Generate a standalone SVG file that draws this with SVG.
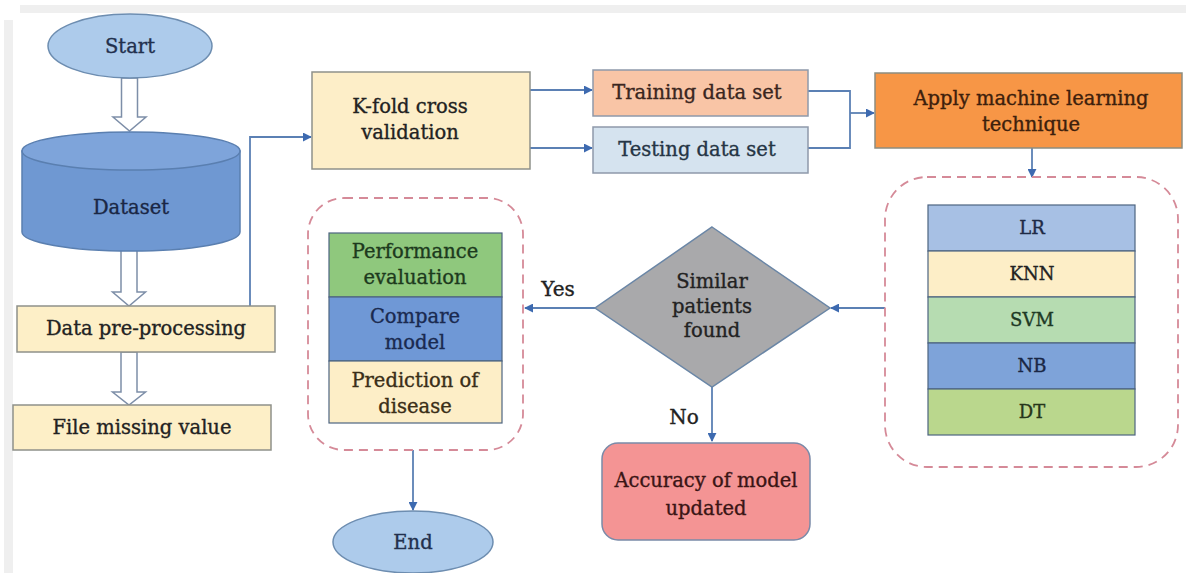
<svg xmlns="http://www.w3.org/2000/svg" width="1186" height="573" viewBox="0 0 1186 573" font-family="'DejaVu Serif', 'Liberation Serif', serif">
<defs>
<style>
text{font-family:'DejaVu Serif','Liberation Serif',serif}
.t{font-size:19.5px;fill:#222;stroke:#222;stroke-width:0.35;text-anchor:middle}
.m{font-size:18px}
.b{stroke:#8f918a;stroke-width:1.5}
.c{fill:none;stroke:#5b80b4;stroke-width:1.8}
.h{fill:#fff;stroke:#7d8ea8;stroke-width:1.5}
.d{fill:none;stroke:#d58a98;stroke-width:1.8;stroke-dasharray:9 6}
.s{stroke:#4d6480;stroke-width:1.2}
</style>
<marker id="ar" viewBox="0 0 10 10" refX="9" refY="5" markerWidth="9" markerHeight="9" markerUnits="userSpaceOnUse" orient="auto"><path d="M0,0 L10,5 L0,10 z" fill="#3d6ab0"/></marker>
</defs>
<rect width="1186" height="573" fill="#fff"/>
<rect x="20" y="5" width="1166" height="8" fill="#efefef"/>
<rect x="4" y="20" width="9" height="553" fill="#efefef"/>

<g id="connectors">
<polygon class="h" points="121.5,78 137.5,78 137.5,117 146,117 129.5,131 113,117 121.5,117"/>
<polygon class="h" points="121,250 137,250 137,292 145.5,292 129,306 112.5,292 121,292"/>
<polygon class="h" points="121,352 137,352 137,392 145.5,392 129,405 112.5,392 121,392"/>
<path class="c" d="M250,306 V137 H311" marker-end="url(#ar)"/>
<path class="c" d="M530,90 H592" marker-end="url(#ar)"/>
<path class="c" d="M530,148 H592" marker-end="url(#ar)"/>
<path class="c" d="M808,91 H850 V148 H808"/>
<path class="c" d="M850,113 H874" marker-end="url(#ar)"/>
<path class="c" d="M1032,148 V177" marker-end="url(#ar)"/>
<path class="c" d="M885,308 H831" marker-end="url(#ar)"/>
<path class="c" d="M595,308 H525" marker-end="url(#ar)"/>
<path class="c" d="M712,387 V441" marker-end="url(#ar)"/>
<path class="c" d="M413,450 V510" marker-end="url(#ar)"/>
<text class="t" x="558" y="296" style="font-size:20px">Yes</text>
<text class="t" x="684" y="424" style="font-size:20px">No</text>
</g>

<g id="start">
<ellipse cx="130" cy="46" rx="82" ry="32" fill="#adcbeb" stroke="#6d8db0" stroke-width="1.5"/>
<text class="t" x="130" y="53" style="fill:#22304d;stroke:#22304d">Start</text>
</g>

<g id="dataset">
<path d="M22,151 V232 A109,19 0 0 0 240,232 V151 Z" fill="#6f98d2" stroke="#5a7fb0" stroke-width="1.5"/>
<ellipse cx="131" cy="151" rx="109" ry="19" fill="#7ea4da" stroke="#5a7fb0" stroke-width="1.5"/>
<text class="t" x="131" y="214" style="fill:#1a2745;stroke:#1a2745">Dataset</text>
</g>

<g id="preprocessing">
<rect class="b" x="17" y="306" width="258" height="46" fill="#fdefc7"/>
<text class="t" x="146" y="335">Data pre-processing</text>
</g>

<g id="missing">
<rect class="b" x="13" y="405" width="258" height="45" fill="#fdefc7"/>
<text class="t" x="142" y="434">File missing value</text>
</g>

<g id="kfold">
<rect class="b" x="312" y="72" width="218" height="97" fill="#fdeec8"/>
<text class="t" x="410" y="113">K-fold cross</text>
<text class="t" x="410" y="139">validation</text>
</g>

<g id="training">
<rect x="593" y="70" width="215" height="46" fill="#f9c5a6" stroke="#8e99aa" stroke-width="1.5"/>
<text class="t" x="697" y="99" style="fill:#3a2620;stroke:#3a2620">Training data set</text>
</g>

<g id="testing">
<rect x="593" y="127" width="215" height="46" fill="#d5e3ef" stroke="#8e99aa" stroke-width="1.5"/>
<text class="t" x="697" y="156" style="fill:#253545;stroke:#253545">Testing data set</text>
</g>

<g id="apply">
<rect x="875" y="73" width="307" height="75" fill="#f79646" stroke="#8d8d80" stroke-width="1.5"/>
<text class="t" x="1031" y="105" style="fill:#3d200c;stroke:#3d200c">Apply machine learning</text>
<text class="t" x="1031" y="131" style="fill:#3d200c;stroke:#3d200c">technique</text>
</g>

<g id="models">
<rect class="d" x="885" y="177" width="293" height="290" rx="42"/>
<rect class="s" x="928" y="205" width="207" height="46" fill="#a7c0e4"/>
<rect class="s" x="928" y="251" width="207" height="46" fill="#fdeec7"/>
<rect class="s" x="928" y="297" width="207" height="46" fill="#b6dcb1"/>
<rect class="s" x="928" y="343" width="207" height="46" fill="#7ea3d9"/>
<rect class="s" x="928" y="389" width="207" height="46" fill="#bad78d"/>
<text class="t m" x="1032" y="234" style="fill:#1e2a45;stroke:#1e2a45">LR</text>
<text class="t m" x="1032" y="280">KNN</text>
<text class="t m" x="1032" y="326" style="fill:#1e3a25;stroke:#1e3a25">SVM</text>
<text class="t m" x="1032" y="372" style="fill:#1a2745;stroke:#1a2745">NB</text>
<text class="t m" x="1032" y="418" style="fill:#26361a;stroke:#26361a">DT</text>
</g>

<g id="decision">
<polygon points="712,227 830,308 712,387 595,308" fill="#a9a9ab" stroke="#6a86a6" stroke-width="1.5"/>
<text class="t" x="712" y="288">Similar</text>
<text class="t" x="712" y="313">patients</text>
<text class="t" x="712" y="337">found</text>
</g>

<g id="accuracy">
<rect x="602" y="443" width="208" height="97" rx="16" fill="#f49494" stroke="#7a8aa8" stroke-width="1.5"/>
<text class="t" x="706" y="487" style="fill:#3a1515;stroke:#3a1515">Accuracy of model</text>
<text class="t" x="706" y="515" style="fill:#3a1515;stroke:#3a1515">updated</text>
</g>

<g id="results">
<rect class="d" x="308" y="198" width="215" height="252" rx="36"/>
<rect class="s" x="329" y="233" width="173" height="64" fill="#8fc87d"/>
<rect class="s" x="329" y="297" width="173" height="64" fill="#6f98d6"/>
<rect class="s" x="329" y="361" width="173" height="62" fill="#fdeec7"/>
<text class="t" x="415" y="258" style="fill:#1d3a1d;stroke:#1d3a1d">Performance</text>
<text class="t" x="415" y="284" style="fill:#1d3a1d;stroke:#1d3a1d">evaluation</text>
<text class="t" x="415" y="323" style="fill:#1a2a50;stroke:#1a2a50">Compare</text>
<text class="t" x="415" y="349" style="fill:#1a2a50;stroke:#1a2a50">model</text>
<text class="t" x="415" y="387" style="fill:#3a2e18;stroke:#3a2e18">Prediction of</text>
<text class="t" x="415" y="413" style="fill:#3a2e18;stroke:#3a2e18">disease</text>
</g>

<g id="end">
<ellipse cx="413" cy="542" rx="80" ry="31" fill="#adcbeb" stroke="#6d8db0" stroke-width="1.5"/>
<text class="t" x="413" y="549" style="fill:#22304d;stroke:#22304d">End</text>
</g>
</svg>
